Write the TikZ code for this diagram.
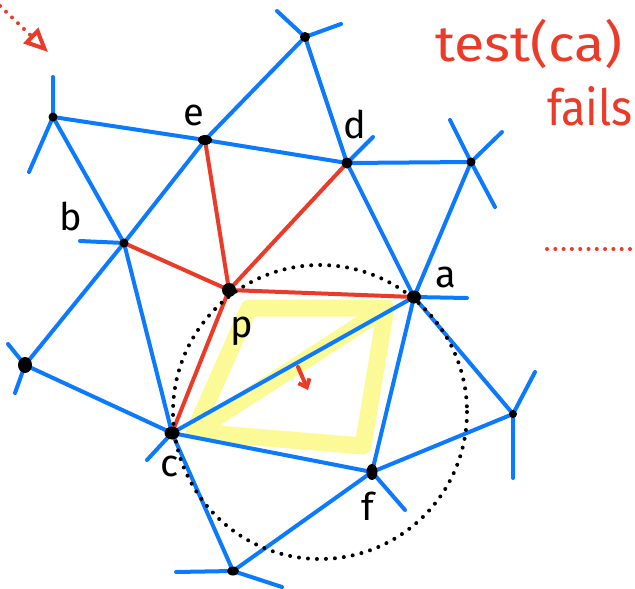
\documentclass[tikz,border=0pt]{standalone}
\usepackage{fontspec}
\setmainfont{Fira Sans}
\usetikzlibrary{arrows.meta}
\definecolor{eblue}{RGB}{12,122,255}
\definecolor{ered}{RGB}{236,58,40}
\definecolor{hl}{RGB}{252,250,150}
\begin{document}
\begin{tikzpicture}[x=1pt,y=-1pt,
  edge/.style={eblue,line width=4pt,line cap=round},
  redge/.style={ered,line width=4pt,line cap=round},
  vdot/.style={fill=black},
  lbl/.style={font=\fontsize{38}{42}\selectfont,anchor=base,inner sep=0pt},
  note/.style={ered,font=\fontsize{50}{56}\selectfont,anchor=base west,inner sep=0pt},
  dots/.style={line width=4pt,line cap=round,dash pattern=on 0pt off 9pt},
  rdots/.style={ered,line width=4pt,line cap=round,dash pattern=on 0pt off 8.3pt}]
\useasboundingbox (0,0) rectangle (635,589);
% vertices
\coordinate (n1) at (53,117);
\coordinate (e) at (205,140);
\coordinate (b) at (124,243);
\coordinate (T) at (305,37);
\coordinate (d) at (347,163);
\coordinate (R1) at (471,162);
\coordinate (a) at (414,297);
\coordinate (R2) at (513,414);
\coordinate (f) at (372,472);
\coordinate (B) at (233,571);
\coordinate (c) at (172,433);
\coordinate (L) at (25,365);
\coordinate (p) at (229,290);
% stub ends
\coordinate (s1) at (53,77);
\coordinate (s2) at (29,172);
\coordinate (s3) at (277,11);
\coordinate (s4) at (341,24);
\coordinate (s5) at (373,137);
\coordinate (s6) at (450,120);
\coordinate (s7) at (502,132);
\coordinate (s8) at (495,207);
\coordinate (s9) at (467,298);
\coordinate (s10) at (535,372);
\coordinate (s11) at (513,478);
\coordinate (s12) at (405,510);
\coordinate (s13) at (176,572);
\coordinate (s14) at (282,587);
\coordinate (s15) at (147,460);
\coordinate (s16) at (8,344);
\coordinate (s17) at (15,393);
\coordinate (s18) at (80,241);
% highlight
\coordinate (h1) at (249,308);
\coordinate (h2) at (386,308);
\coordinate (h3) at (363,446);
\coordinate (h4) at (194,432);
\draw[hl,line width=17pt,line cap=round,line join=round]
  (h1) -- (h2) -- (h3) -- (h4) -- cycle (h2) -- (h4);
% blue triangulation
\draw[edge] (n1) -- (e) (n1) -- (b) (n1) -- (s1) (n1) -- (s2)
  (e) -- (b) (e) -- (d) (e) -- (T)
  (T) -- (d) (T) -- (s3) (T) -- (s4)
  (d) -- (a) (d) -- (R1) (d) -- (s5)
  (R1) -- (a) (R1) -- (s6) (R1) -- (s7) (R1) -- (s8)
  (a) -- (c) (a) -- (f) (a) -- (R2) (a) -- (s9)
  (R2) -- (f) (R2) -- (s10) (R2) -- (s11)
  (f) -- (c) (f) -- (B) (f) -- (s12)
  (B) -- (c) (B) -- (s13) (B) -- (s14)
  (c) -- (b) (c) -- (L) (c) -- (s15)
  (L) -- (b) (L) -- (s16) (L) -- (s17)
  (b) -- (s18);
% red edges from p
\draw[redge] (p) -- (e) (p) -- (d) (p) -- (b) (p) -- (a) (p) -- (c);
% dotted circle
\draw[dots] (320,412) circle (147);
% small red arrow
\coordinate (ar1) at (298,367);
\coordinate (ar2) at (308,390);
\draw[redge,-{Straight Barb[length=7pt,width=12pt]}] (ar1) -- (ar2);
% vertex dots
\fill[vdot] (n1) circle (4.5);
\fill[vdot] (e) ellipse (7 and 5);
\fill[vdot] (b) circle (4.5);
\fill[vdot] (T) circle (5);
\fill[vdot] (d) circle (5.5);
\fill[vdot] (R1) circle (4.5);
\fill[vdot] (a) ellipse (7 and 6.5);
\fill[vdot] (R2) circle (4);
\fill[vdot] (f) ellipse (5.5 and 8);
\fill[vdot] (B) ellipse (6 and 4.5);
\fill[vdot] (c) ellipse (7.5 and 6.5);
\fill[vdot] (L) ellipse (7 and 8);
\fill[vdot] (p) circle (7);
% labels
\node[lbl] (le) at (194,125) {e};
\node[lbl] (lb) at (71,230) {b};
\node[lbl] (ld) at (355,138) {d};
\node[lbl] (la) at (446,287) {a};
\node[lbl] (lp) at (242,337) {p};
\node[lbl] (lc) at (170,476) {c};
\node[lbl] (lf) at (368,520) {f};
% notes
\node[note] (t1) at (435,61) {\scalebox{1.11}[1]{test(ca)}};
\node[note] (t2) at (547,125) {\scalebox{0.9}[1]{fails}};
% red dotted arrow top left
\coordinate (q1) at (0,6);
\coordinate (q2) at (48,52);
\draw[rdots,-{Triangle[open,length=24pt,width=21pt,line width=4pt]}] (q1) -- (q2);
% red dotted line right
\coordinate (r1) at (547,249);
\coordinate (r2) at (632,249);
\draw[rdots] (r1) -- (r2);
\end{tikzpicture}
\end{document}
